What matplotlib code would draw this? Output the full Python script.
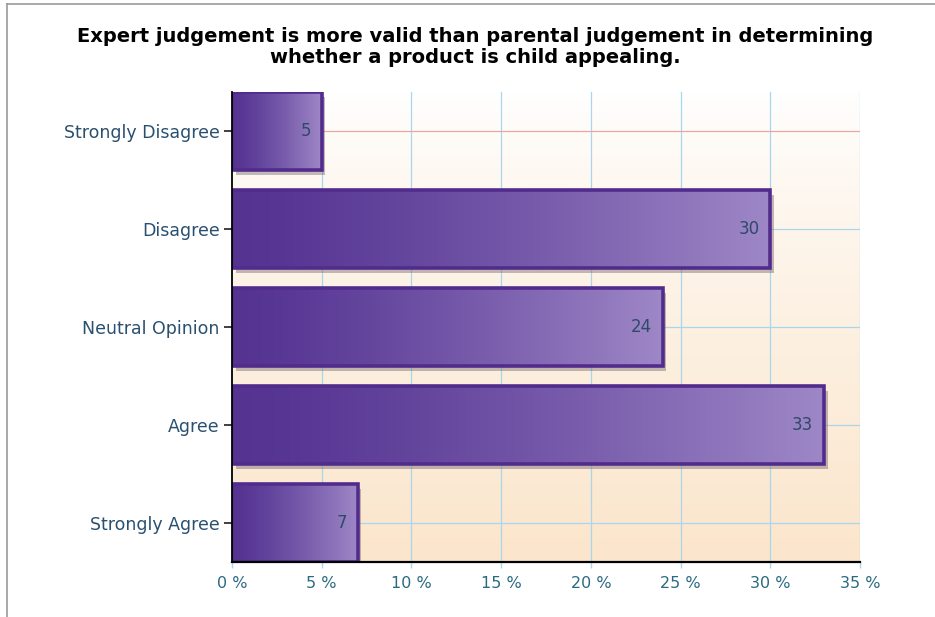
import matplotlib
matplotlib.use('Agg')
import matplotlib.pyplot as plt
import numpy as np
from matplotlib.patches import Rectangle

categories = ['Strongly Disagree', 'Disagree', 'Neutral Opinion', 'Agree', 'Strongly Agree']
values = [5, 30, 24, 33, 7]
xticks = [0, 5, 10, 15, 20, 25, 30, 35]
xticklabels = ['%d %%' % t for t in xticks]
title = ('Expert judgement is more valid than parental judgement in determining\n'
         'whether a product is child appealing.')

plt.rcParams['font.family'] = ['DejaVu Sans']

fig = plt.figure(figsize=(9.35, 6.17), dpi=100)
fig.patch.set_facecolor('white')

# gray frame at top and left
fig.add_artist(plt.Line2D([7/935, 7/935], [0, 1-4/617], color='#999999', lw=1.2))
fig.add_artist(plt.Line2D([7/935, 1], [1-4/617, 1-4/617], color='#999999', lw=1.2))

ax = fig.add_axes([232/935, 1-562/617, (860-232)/935, (562-92)/617])
ypos = np.arange(len(categories))
ymin, ymax = len(categories) - 0.6, -0.4

# background gradient white -> peach
bg = np.linspace(0, 1, 256).reshape(-1, 1) ** 0.8
top_c = np.array([1.0, 1.0, 1.0])
bot_c = np.array([0.985, 0.90, 0.80])
bg_img = top_c + (bot_c - top_c) * bg[:, :, None]
ax.imshow(bg_img, extent=[0, 35, ymin, ymax], aspect='auto', zorder=0)

# grid
for t in xticks[1:]:
    ax.axvline(t, color='#a9d6ec', lw=0.9, zorder=1)
for i, y in enumerate(ypos):
    ax.axhline(y, color='#e8a8a0' if i == 0 else '#a9d6ec', lw=0.9, zorder=1)

bars = ax.barh(ypos, values, height=0.8, color='none', edgecolor='none', zorder=3)

grad = np.linspace(0, 1, 256).reshape(1, -1) ** 1.3
left_c = np.array([0.33, 0.20, 0.57])
right_c = np.array([0.62, 0.53, 0.78])
bar_img = left_c + (right_c - left_c) * grad[:, :, None]

for b, v in zip(bars, values):
    x0, y0 = b.get_x(), b.get_y()
    w, h = b.get_width(), b.get_height()
    # drop shadow
    ax.add_patch(Rectangle((x0 + 0.2, y0 + 0.05), w, h, facecolor='#7a6a70',
                           edgecolor='none', alpha=0.45, zorder=2))
    im = ax.imshow(bar_img, extent=[x0, x0 + w, y0 + h, y0], aspect='auto', zorder=3)
    im.set_clip_path(b)
    ax.add_patch(Rectangle((x0, y0), w, h, facecolor='none',
                           edgecolor='#522c8c', lw=2.6, zorder=4))
    ax.text(x0 + w - 0.6, y0 + h / 2, str(v), ha='right', va='center',
            fontsize=12, color='#2e4a68', zorder=5)

ax.set_xlim(0, 35)
ax.set_ylim(ymin, ymax)
ax.set_yticks(ypos)
ax.set_yticklabels(categories, fontsize=12.5, color='#2a5070')
ax.set_xticks(xticks)
ax.set_xticklabels(xticklabels, fontsize=11.5, color='#2a6a80')
ax.tick_params(axis='y', length=6, width=1.2, color='#202020', pad=3)
ax.tick_params(axis='x', length=4, width=1, color='#a9d6ec', pad=6)

for s in ['top', 'right']:
    ax.spines[s].set_visible(False)
for s in ['left', 'bottom']:
    ax.spines[s].set_color('black')
    ax.spines[s].set_zorder(6)
ax.spines['left'].set_linewidth(1.3)
ax.spines['bottom'].set_linewidth(1.6)

fig.text(475/935, 1-47/617, title, ha='center', va='center', fontsize=14,
         fontweight='bold', color='black', linespacing=1.1)

fig.savefig('out.png', dpi=100)
